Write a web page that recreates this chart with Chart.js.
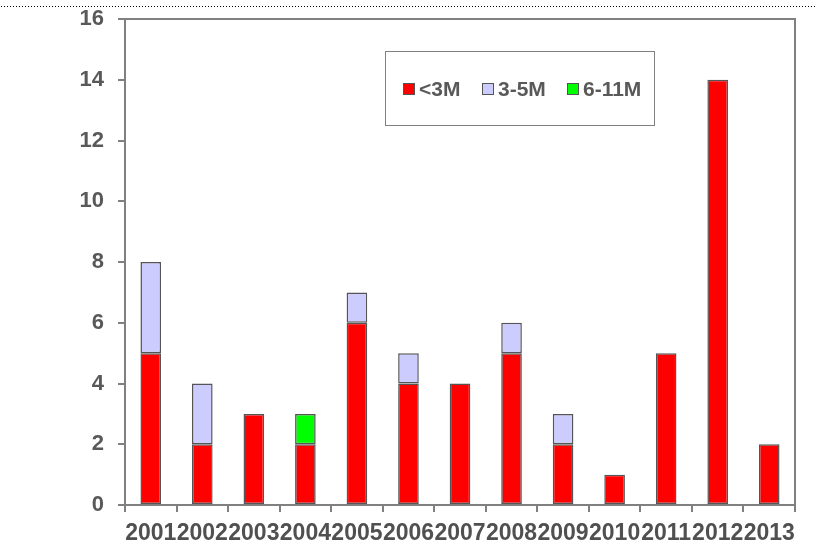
<!DOCTYPE html>
<html>
<head>
<meta charset="utf-8">
<script src="https://cdn.jsdelivr.net/npm/chart.js@4/dist/chart.umd.min.js"></script>
<style>
  html, body { margin: 0; padding: 0; background: #fff; }
  #wrap { width: 815px; height: 544px; position: relative; }
</style>
</head>
<body>
<div id="wrap"><canvas id="c" width="815" height="544"></canvas></div>
<script>
// Yearly counts, stacked by age group
const years = ['2001','2002','2003','2004','2005','2006','2007','2008','2009','2010','2011','2012','2013'];
const under3M = [5, 2, 3, 2, 6, 4, 4, 5, 2, 1, 5, 14, 2];
const from3to5M = [3, 2, 0, 0, 1, 1, 0, 1, 1, 0, 0, 0, 0];
const from6to11M = [0, 0, 0, 1, 0, 0, 0, 0, 0, 0, 0, 0, 0];
const seriesNames = ['<3M', '3-5M', '6-11M'];
const yTicks = [0, 2, 4, 6, 8, 10, 12, 14, 16];

const axisGray = '#808080';
const textGray = '#595959';
const FONT = '"Liberation Sans", Arial, sans-serif';

// Frame on top/right of the plot, dotted rule at the page top, and boxed legend
const decor = {
  id: 'decor',
  afterDraw(chart) {
    const { ctx, chartArea: a } = chart;
    ctx.save();
    // dotted rule
    ctx.fillStyle = '#000';
    for (let x = 1; x < chart.width; x += 3) ctx.fillRect(x, 6, 1, 1);
    // frame
    ctx.strokeStyle = axisGray;
    ctx.lineWidth = 2;
    ctx.beginPath();
    ctx.moveTo(a.left - 7, a.top);
    ctx.lineTo(a.right, a.top);
    ctx.lineTo(a.right, a.bottom + 7);
    ctx.stroke();
    // legend
    const bx = 385.5, by = 51.5, bw = 269, bh = 74;
    ctx.lineWidth = 1;
    ctx.strokeStyle = '#808080';
    ctx.fillStyle = '#fff';
    ctx.fillRect(bx, by, bw, bh);
    ctx.strokeRect(bx, by, bw, bh);
    ctx.font = 'bold 21px ' + FONT;
    ctx.textBaseline = 'middle';
    const cy = 89;
    const starts = [403, 482, 567];
    chart.data.datasets.forEach((ds, i) => {
      const x = starts[i];
      ctx.fillStyle = ds.backgroundColor;
      ctx.fillRect(x, cy - 6, 12, 12);
      ctx.strokeStyle = '#555';
      ctx.strokeRect(x + 0.5, cy - 5.5, 11, 11);
      ctx.fillStyle = textGray;
      ctx.fillText(ds.label, x + 16, cy + 1);
    });
    ctx.restore();
  }
};

new Chart(document.getElementById('c'), {
  type: 'bar',
  data: {
    labels: years,
    datasets: [
      { label: seriesNames[0], data: under3M, backgroundColor: '#ff0000' },
      { label: seriesNames[1], data: from3to5M, backgroundColor: '#ccccff' },
      { label: seriesNames[2], data: from6to11M, backgroundColor: '#00ff00' }
    ].map(d => Object.assign(d, {
      borderColor: '#555555', borderWidth: 1.5, borderSkipped: false,
      categoryPercentage: 1, barPercentage: 0.4
    }))
  },
  options: {
    responsive: false,
    animation: false,
    events: [],
    layout: { padding: { left: 0, right: 20, top: 19, bottom: 0 } },
    plugins: { legend: { display: false }, tooltip: { enabled: false } },
    scales: {
      x: {
        stacked: true,
        offset: true,
        afterFit(s) { s.height = 39; },
        grid: { offset: true, drawOnChartArea: false, tickLength: 7, color: axisGray, lineWidth: 2 },
        border: { color: axisGray, width: 2 },
        ticks: { color: '#505050', font: { family: FONT, size: 23, weight: 'bold', lineHeight: 1 }, padding: 10, maxRotation: 0, autoSkip: false }
      },
      y: {
        stacked: true,
        min: 0, max: 16,
        afterBuildTicks(s) { s.ticks = yTicks.map(v => ({ value: v })); },
        afterFit(s) { s.width = 125; s.paddingTop = 0; s.paddingBottom = 0; },
        grid: { drawOnChartArea: false, tickLength: 7, color: axisGray, lineWidth: 2 },
        border: { color: axisGray, width: 2 },
        ticks: { color: textGray, font: { family: FONT, size: 22, weight: 'bold' }, padding: 14 }
      }
    }
  },
  plugins: [decor]
});
</script>
</body>
</html>
